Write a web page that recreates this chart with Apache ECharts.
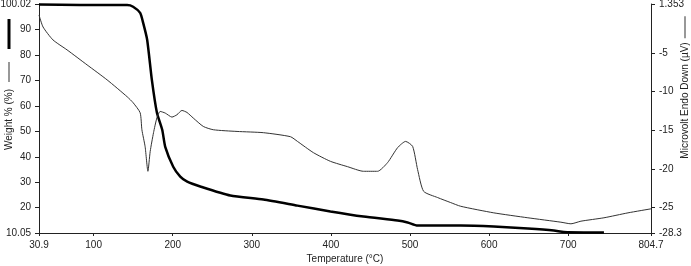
<!DOCTYPE html>
<html>
<head>
<meta charset="utf-8">
<script src="https://cdn.jsdelivr.net/npm/echarts@6/dist/echarts.min.js"></script>
<style>
  html, body { margin: 0; padding: 0; background: #fff; }
  #chart { width: 691px; height: 266px; }
</style>
</head>
<body>
<div id="chart"></div>
<script>
// TGA weight curve (thick line, left axis)
const weightTemp = [30.9, 82.8, 142.3, 149.9, 158.8, 162.6, 167.7, 173.6, 180.0, 186.7, 190.5, 200.6, 209.5, 218.3, 234.8, 272.8, 314.6, 357.7, 399.4, 441.2, 484.3, 497.0, 509.6, 564.1, 605.9, 649.0, 681.9, 694.5, 719.9, 745.2]
const weightPct = [99.8, 99.6, 99.6, 98.95, 96.5, 92.6, 85.9, 70.2, 57.3, 50.6, 43.9, 36.1, 32.2, 30.2, 28.3, 24.75, 23.2, 20.8, 18.5, 16.5, 14.95, 14.2, 13.0, 13.0, 12.6, 11.8, 11.0, 10.4, 10.25, 10.25]

// DSC heat flow curve (thin line, right axis)
const dscTemp = [30.9, 36.0, 48.6, 66.4, 91.7, 117.0, 142.4, 150.0, 158.8, 161.0, 165.1, 168.6, 171.5, 175.7, 180.0, 184.1, 190.5, 199.0, 205.3, 211.6, 218.0, 225.9, 238.6, 251.3, 281.3, 314.6, 348.8, 357.7, 377.9, 399.4, 421.0, 441.2, 459.0, 471.6, 484.3, 494.4, 503.3, 509.6, 517.2, 534.9, 551.4, 564.1, 605.9, 649.0, 690.8, 703.5, 716.1, 745.2, 775.6, 804.7]
const dscUv = [-0.07, -1.62, -3.30, -4.59, -6.53, -8.47, -10.66, -11.44, -12.73, -14.93, -17.13, -20.31, -17.73, -15.31, -13.38, -12.56, -12.77, -13.29, -12.99, -12.43, -12.69, -13.41, -14.50, -14.93, -15.15, -15.31, -15.83, -16.44, -17.90, -19.02, -19.71, -20.31, -20.31, -19.19, -17.25, -16.44, -17.08, -20.09, -22.90, -23.71, -24.36, -24.84, -25.69, -26.33, -26.90, -27.11, -26.77, -26.33, -25.69, -25.17]

// tick labels
const xTicks = [30.9, 100, 200, 300, 400, 500, 600, 700, 804.7]
const weightTicks = [10.05, 20, 30, 40, 50, 60, 70, 80, 90, 100.02]
const dscTicks = [-28.3, -25, -20, -15, -10, -5, 1.353]

const font = 'Liberation Sans, Arial, sans-serif'
const ink = '#222'

const axisCommon = {
  type: 'value',
  splitLine: { show: false },
  axisLine: { show: true, onZero: false, lineStyle: { color: ink, width: 1 } },
  axisLabel: { color: ink, fontSize: 10, fontFamily: font, margin: 8 },
  nameTextStyle: { color: ink, fontSize: 10, fontFamily: font },
  nameMoveOverlap: false
}

const chart = echarts.init(document.getElementById('chart'))

const option = {
  animation: false,
  backgroundColor: '#fff',
  grid: { left: 39, right: 40, top: 4, bottom: 33, containLabel: false, outerBoundsMode: 'none' },
  xAxis: {
    ...axisCommon,
    min: 30.9,
    max: 804.7,
    name: 'Temperature (°C)',
    nameLocation: 'middle',
    nameGap: 21,
    axisTick: { show: true, length: 3, lineStyle: { color: ink }, customValues: xTicks },
    axisLabel: { ...axisCommon.axisLabel, margin: 7, customValues: xTicks }
  },
  yAxis: [
    {
      ...axisCommon,
      position: 'left',
      min: 10.05,
      max: 100.02,
      name: '{t|Weight % (%)}{g1|}{thin|}{g2|}{thick|}',
      nameLocation: 'middle',
      nameGap: 25,
      nameTextStyle: {
        ...axisCommon.nameTextStyle,
        padding: [0, 0, 0, 68],
        rich: {
          t: { color: ink, fontSize: 10, fontFamily: font },
          g1: { width: 7, height: 1 },
          thin: { width: 20, height: 1, backgroundColor: '#333' },
          g2: { width: 13, height: 1 },
          thick: { width: 30, height: 3, backgroundColor: '#000' }
        }
      },
      axisTick: { show: true, length: 4, lineStyle: { color: ink }, customValues: weightTicks },
      axisLabel: { ...axisCommon.axisLabel, customValues: weightTicks }
    },
    {
      ...axisCommon,
      position: 'right',
      min: -28.3,
      max: 1.353,
      name: '{t|Microvolt Endo Down (µV)}{g1|}{thin|}',
      nameLocation: 'middle',
      nameGap: 29,
      nameTextStyle: {
        ...axisCommon.nameTextStyle,
        padding: [0, 0, 0, 62],
        rich: {
          t: { color: ink, fontSize: 10, fontFamily: font },
          g1: { width: 4, height: 1 },
          thin: { width: 22, height: 1, backgroundColor: '#333' }
        }
      },
      axisTick: { show: true, length: 4, lineStyle: { color: ink }, customValues: dscTicks },
      axisLabel: { ...axisCommon.axisLabel, customValues: dscTicks }
    }
  ],
  series: [
    {
      name: 'Weight %',
      type: 'line',
      yAxisIndex: 0,
      showSymbol: false,
      smooth: 0.2,
      lineStyle: { color: '#000', width: 2.5 },
      data: weightTemp.map((t, i) => [t, weightPct[i]])
    },
    {
      name: 'Microvolt Endo Down',
      type: 'line',
      yAxisIndex: 1,
      showSymbol: false,
      smooth: 0.2,
      lineStyle: { color: '#333', width: 1 },
      data: dscTemp.map((t, i) => [t, dscUv[i]])
    }
  ]
}

chart.setOption(option)
</script>
</body>
</html>
